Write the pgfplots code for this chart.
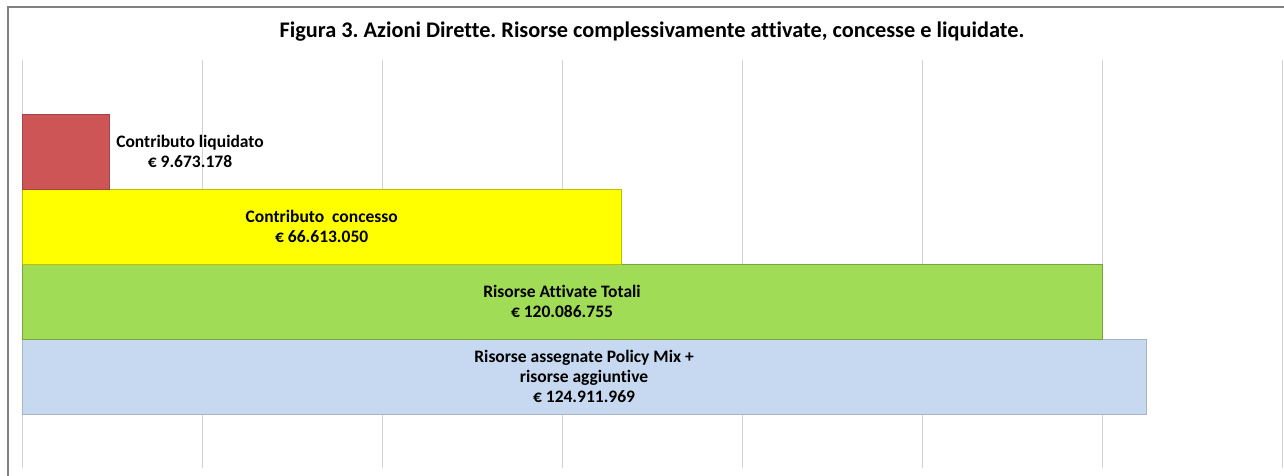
\documentclass[border=0pt]{standalone}
\usepackage{pgfplots}
\pgfplotsset{compat=1.18}
\usepackage{fontspec}
\setmainfont{Carlito}[Ligatures=NoCommon]
\frenchspacing
\definecolor{redbar}{RGB}{205,85,85}
\definecolor{yellowbar}{RGB}{255,255,0}
\definecolor{greenbar}{RGB}{160,220,85}
\definecolor{bluebar}{RGB}{198,217,240}
\definecolor{gridgray}{RGB}{210,210,210}
\definecolor{framegray}{RGB}{130,130,130}
\begin{document}
\begin{tikzpicture}[x=1pt,y=1pt]
\useasboundingbox (0,0) rectangle (1284,-476);
\draw[framegray, line width=1.5pt] (8,-476) -- (8,-7) -- (1284,-7);
\node[font=\bfseries\fontsize{22.3}{26}\selectfont] at (652,-32) {Figura 3. Azioni Dirette. Risorse complessivamente attivate, concesse e liquidate.};
\begin{axis}[
  at={(22pt,-60pt)}, anchor=north west,
  scale only axis, width=1260pt, height=408pt,
  xmin=0, xmax=140000000, ymin=-1.22, ymax=4.22,
  xtick={0,20000000,40000000,60000000,80000000,100000000,120000000,140000000},
  xticklabels=\empty, ytick=\empty, major tick length=0pt,
  xmajorgrids, grid style={color=gridgray, line width=0.9pt},
  axis line style={draw=none},
  xbar, bar width=1, bar shift=0pt, clip=false,
]
\addplot[fill=bluebar, draw=bluebar!60!gray, line width=1pt] coordinates {(124911969,0)};
\addplot[fill=greenbar, draw=greenbar!75!black, line width=1pt] coordinates {(120086755,1)};
\addplot[fill=yellowbar, draw=yellowbar!75!black, line width=1pt] coordinates {(66613050,2)};
\addplot[fill=redbar, draw=redbar!80!black, line width=1pt] coordinates {(9673178,3)};
\node[align=center, font=\bfseries\fontsize{17.5}{20}\selectfont] at (axis cs:18666667,3) {Contributo liquidato\\€ 9.673.178};
\node[align=center, font=\bfseries\fontsize{17.5}{20}\selectfont] at (axis cs:33300000,2) {Contributo\ \ concesso\\€ 66.613.050};
\node[align=center, font=\bfseries\fontsize{17.5}{20}\selectfont] at (axis cs:60000000,1) {Risorse Attivate Totali\\€ 120.086.755};
\node[align=center, font=\bfseries\fontsize{17.5}{20}\selectfont] at (axis cs:62450000,0) {Risorse assegnate Policy Mix +\\risorse aggiuntive\\€ 124.911.969};
\end{axis}
\end{tikzpicture}
\end{document}
